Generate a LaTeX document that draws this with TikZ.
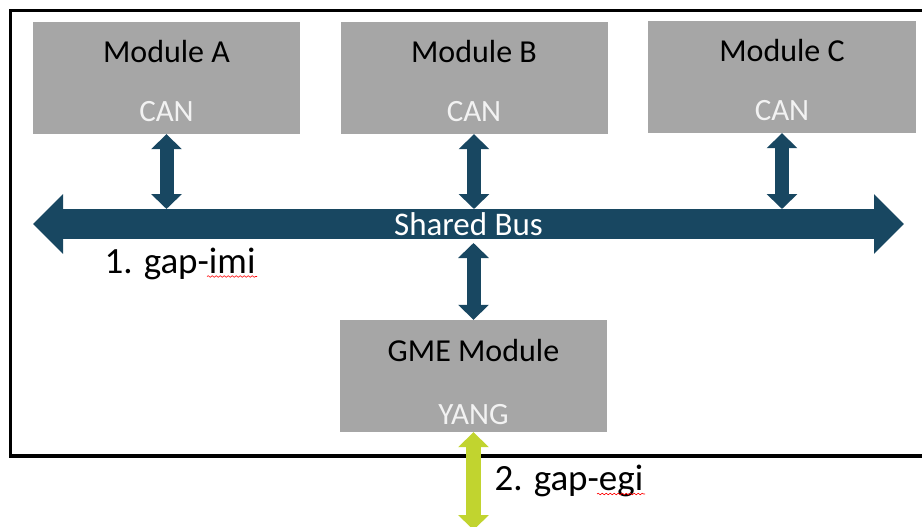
\documentclass[tikz,border=0pt]{standalone}
\usepackage{fontspec}
\setmainfont{Carlito}
\usetikzlibrary{arrows.meta,decorations.pathmorphing}
\definecolor{busblue}{RGB}{24,71,97}
\definecolor{modgrey}{RGB}{166,166,166}
\definecolor{egigreen}{RGB}{193,212,47}
\definecolor{ifgrey}{RGB}{242,242,242}
\tikzset{
	module/.style={fill=modgrey,minimum width=267pt,minimum height=112pt,inner sep=0pt},
	modtitle/.style={anchor=base,font=\fontsize{32}{38}\selectfont,text=black},
	modif/.style={anchor=base,font=\fontsize{31}{37}\selectfont,text=ifgrey},
	gaplabel/.style={anchor=base west,font=\fontsize{37}{43}\selectfont,text=black},
	bus/.style={busblue,line width=30pt,{Triangle[length=30pt,width=58pt]}-{Triangle[length=30pt,width=58pt]}},
	bustext/.style={minimum height=30pt,inner sep=0pt,outer sep=0pt,text=white,font=\fontsize{33}{39}\selectfont},
	link/.style={busblue,line width=14pt,{Triangle[length=15pt,width=30pt]}-{Triangle[length=15pt,width=30pt]}},
	egress/.style={egigreen,line width=15pt,{Triangle[length=15pt,width=30pt]}-{Triangle[length=15pt,width=30pt]}},
	spell/.style={red,line width=0.6pt,decorate,decoration={snake,amplitude=0.8pt,segment length=4pt}}
}
\begin{document}
\begin{tikzpicture}[x=1pt,y=-1pt]
	\clip (0,0) rectangle (922,527);
	\draw[line width=3.5pt] (10.5,10.5) rectangle (940,456);
	\node[module] (modA) at (166.5,78) {};
	\node[module] (modB) at (474,78) {};
	\node[module,minimum width=268pt] (modC) at (782,77) {};
	\node[module] (modG) at (473.5,376) {};
	\node[modtitle] (titA) at ([yshift=-41pt]modA.north) {Module A};
	\node[modtitle] (titB) at ([yshift=-41pt]modB.north) {Module B};
	\node[modtitle] (titC) at ([yshift=-41pt]modC.north) {Module C};
	\node[modtitle] (titG) at ([yshift=-42pt]modG.north) {GME Module};
	\node[modif] (ifA) at ([yshift=-100pt]modA.north) {CAN};
	\node[modif] (ifB) at ([yshift=-100pt]modB.north) {CAN};
	\node[modif] (ifC) at ([yshift=-100pt]modC.north) {CAN};
	\node[modif] (ifG) at ([yshift=-105pt]modG.north) {YANG};
	\coordinate (busL) at (33,224); \coordinate (busR) at (904,224);
	\draw[bus] (busL) -- (busR) node[midway,bustext] (bus) {Shared Bus};
	\draw[link] (modA) -- (modA |- bus.north);
	\draw[link] (modB) -- (modB |- bus.north);
	\draw[link] (modC) -- (modC |- bus.north);
	\draw[link,shorten <=4pt] (modG |- bus.south) -- (modG);
	\coordinate (extG) at (473.5,530);
	\draw[egress] (modG) -- (extG);
	\node[gaplabel] (imi) at (101,273) {1. gap-imi};
	\node[gaplabel] (egi) at (491,490) {2. gap-egi};
	\draw[spell] (207,276.5) -- (257,276.5);
	\draw[spell] (597,494) -- (645,494);
\end{tikzpicture}
\end{document}
